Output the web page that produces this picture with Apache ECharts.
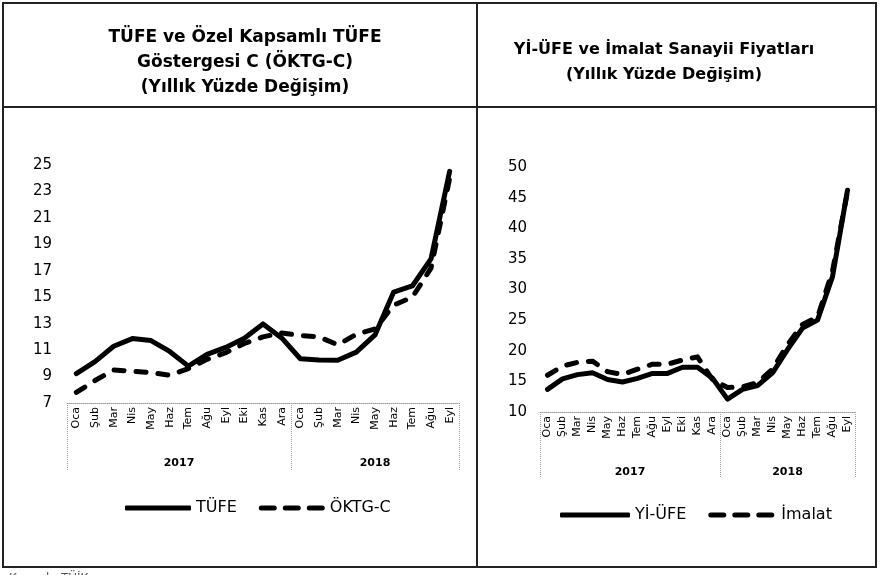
<!DOCTYPE html>
<html>
<head>
<meta charset="utf-8">
<script src="https://cdn.jsdelivr.net/npm/echarts@6/dist/echarts.min.js"></script>
<style>html,body{margin:0;padding:0;background:#fff}#c{width:880px;height:575px}</style>
</head>
<body>
<div id="c"></div>
<script>
// ---- data ----
const months = ['Oca','Şub','Mar','Nis','May','Haz','Tem','Ağu','Eyl','Eki','Kas','Ara','Oca','Şub','Mar','Nis','May','Haz','Tem','Ağu','Eyl'];
const years = ['2017','2018'];
const monthsPerYear = [12, 9];
const tufe  = [9.22,10.13,11.29,11.87,11.72,10.90,9.79,10.68,11.20,11.90,12.98,11.92,10.35,10.26,10.23,10.85,12.15,15.39,15.85,17.90,24.52];
const oktgC = [7.8,8.7,9.5,9.4,9.3,9.1,9.6,10.3,10.8,11.5,12.0,12.3,12.1,12.0,11.4,12.2,12.6,14.4,15.0,17.2,24.0];
const yiufe = [13.7,15.4,16.1,16.4,15.3,14.9,15.5,16.3,16.3,17.3,17.3,15.5,12.1,13.7,14.3,16.4,20.2,23.7,25.0,32.1,46.2];
const imalat= [16.0,17.5,18.1,18.3,16.6,16.1,17.0,17.8,17.8,18.5,19.0,15.3,14.0,14.1,14.8,17.0,21.0,24.3,25.5,33.0,46.0];
const leftTitle = 'TÜFE ve Özel Kapsamlı TÜFE\nGöstergesi C (ÖKTG-C)\n(Yıllık Yüzde Değişim)';
const rightTitle = 'Yİ-ÜFE ve İmalat Sanayii Fiyatları\n(Yıllık Yüzde Değişim)';
const leftNames = ['TÜFE','ÖKTG-C'];
const rightNames = ['Yİ-ÜFE','İmalat'];

// derived year positions on axis (in month units)
const yearBounds = [0];
monthsPerYear.forEach(n => yearBounds.push(yearBounds[yearBounds.length-1] + n));
const yearCenters = years.map((y,i) => (yearBounds[i] + yearBounds[i+1]) / 2);
const total = yearBounds[yearBounds.length-1];

const FONT = 'DejaVu Sans';
const chart = echarts.init(document.getElementById('c'), null, {renderer:'canvas'});

function monthAxis(gi){
  return {
    type:'category', gridIndex:gi, data:months, boundaryGap:true,
    axisLine:{show:true, lineStyle:{color:'#9a9a9a', width:1, type:'dotted'}},
    axisTick:{show:false},
    axisLabel:{rotate:90, interval:0, fontSize:11, color:'#000', fontFamily:FONT, margin:4}
  };
}
function yearAxis(gi, tickLen){
  return {
    type:'value', gridIndex:gi, min:0, max:total, position:'bottom',
    axisLine:{show:false}, splitLine:{show:false},
    axisTick:{show:true, customValues:yearBounds, length:tickLen, lineStyle:{color:'#9a9a9a', type:'dotted', width:1}},
    axisLabel:{customValues:yearCenters, fontSize:11, fontWeight:'bold', color:'#000', fontFamily:FONT, margin:55,
      formatter: v => { const i = yearCenters.indexOf(v); return i >= 0 ? years[i] : ''; }}
  };
}
function yAxis(gi, min, max, interval, margin){
  return {
    type:'value', gridIndex:gi, min:min, max:max, interval:interval,
    axisLine:{show:false}, axisTick:{show:false}, splitLine:{show:false},
    axisLabel:{fontSize:15, color:'#000', fontFamily:FONT, margin:margin}
  };
}
const solid = {color:'#000', width:5, type:'solid', cap:'round', join:'round'};
const dashed = {color:'#000', width:5, type:[10,12], cap:'round', join:'round'};
const dashIcon = 'path://M2.5,0h13a2.5,2.5 0 0 1 0,5h-13a2.5,2.5 0 0 1 0,-5z M26.5,0h13a2.5,2.5 0 0 1 0,5h-13a2.5,2.5 0 0 1 0,-5z M50.5,0h13a2.5,2.5 0 0 1 0,5h-13a2.5,2.5 0 0 1 0,-5z';

const option = {
  backgroundColor:'#fff',
  animation:false,
  title:[
    {text:leftTitle, left:240, top:20, textAlign:'center',
     textStyle:{fontSize:17, fontWeight:'bold', lineHeight:25, color:'#000', fontFamily:FONT}},
    {text:rightTitle, left:659, top:32, textAlign:'center',
     textStyle:{fontSize:16, fontWeight:'bold', lineHeight:25, color:'#000', fontFamily:FONT}},
    {text:'Kaynak: TÜİK', left:4, top:568, textStyle:{fontSize:12, fontWeight:'normal', color:'#555', fontFamily:FONT}}
  ],
  graphic:[
    {type:'rect', shape:{x:3, y:3, width:873, height:564}, style:{fill:'none', stroke:'#222', lineWidth:2}, silent:true},
    {type:'line', shape:{x1:477, y1:3, x2:477, y2:567}, style:{stroke:'#222', lineWidth:2}, silent:true},
    {type:'line', shape:{x1:3, y1:107, x2:876, y2:107}, style:{stroke:'#222', lineWidth:2}, silent:true}
  ],
  grid:[
    {left:67, right:421, top:165, bottom:172, containLabel:false},
    {left:540, right:25, top:167, bottom:163, containLabel:false}
  ],
  xAxis:[monthAxis(0), yearAxis(0, 67), monthAxis(1), yearAxis(1, 65)],
  yAxis:[yAxis(0, 7, 25, 2, 15), yAxis(1, 10, 50, 5, 13)],
  legend:[
    {data:[{name:leftNames[0], icon:'roundRect'}, {name:leftNames[1], icon:dashIcon}],
     left:120, top:495, itemWidth:66, itemHeight:5, itemGap:22,
     itemStyle:{color:'#000', borderWidth:0},
     textStyle:{fontSize:16, color:'#000', fontFamily:FONT}},
    {data:[{name:rightNames[0], icon:'roundRect'}, {name:rightNames[1], icon:dashIcon}],
     left:555, top:502, itemWidth:70, itemHeight:5, itemGap:22,
     itemStyle:{color:'#000', borderWidth:0},
     textStyle:{fontSize:16, color:'#000', fontFamily:FONT}}
  ],
  series:[
    {name:leftNames[0], type:'line', xAxisIndex:0, yAxisIndex:0, data:tufe, symbol:'none', lineStyle:solid, itemStyle:{color:'#000'}, z:3},
    {name:leftNames[1], type:'line', xAxisIndex:0, yAxisIndex:0, data:oktgC, symbol:'none', lineStyle:dashed, itemStyle:{color:'#000'}, z:2},
    {name:rightNames[0], type:'line', xAxisIndex:2, yAxisIndex:1, data:yiufe, symbol:'none', lineStyle:solid, itemStyle:{color:'#000'}, z:3},
    {name:rightNames[1], type:'line', xAxisIndex:2, yAxisIndex:1, data:imalat, symbol:'none', lineStyle:dashed, itemStyle:{color:'#000'}, z:2}
  ]
};
chart.setOption(option);
</script>
</body>
</html>
